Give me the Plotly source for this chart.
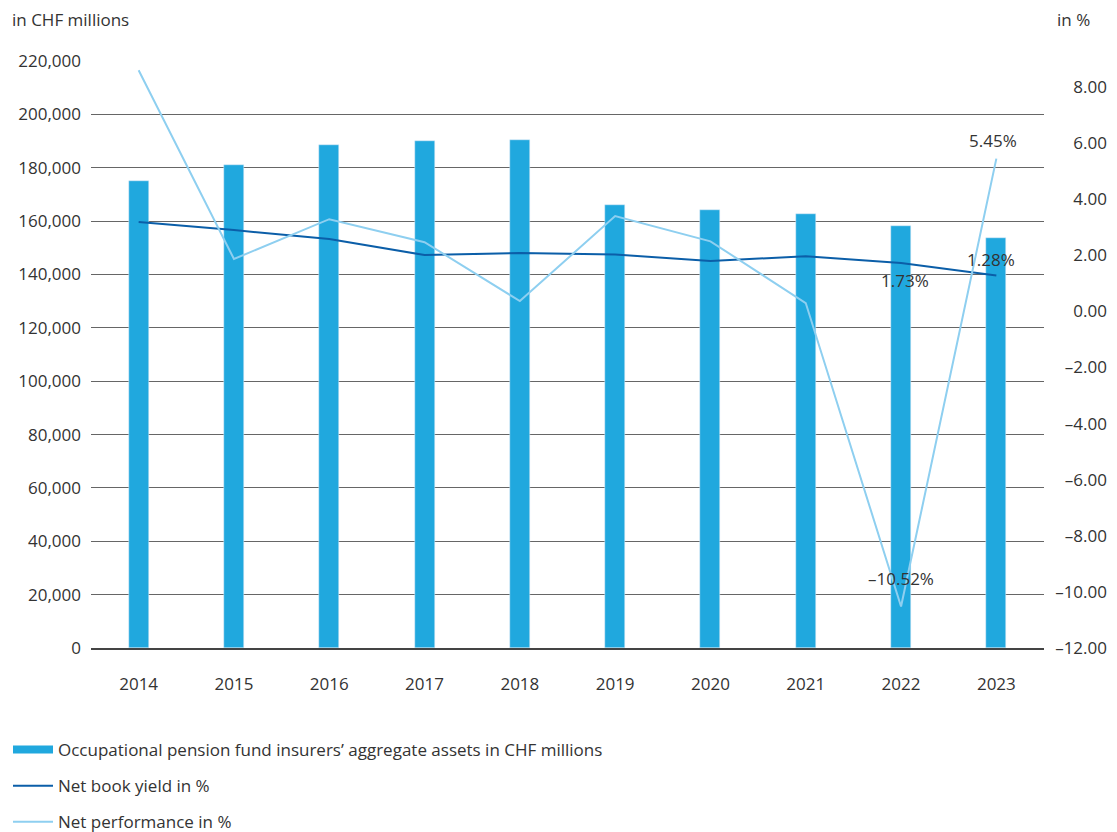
import plotly.graph_objects as go

years = ["2014", "2015", "2016", "2017", "2018", "2019", "2020", "2021", "2022", "2023"]
assets = [175000, 181000, 188500, 190000, 190400, 166000, 164200, 162700, 158200, 153700]
book_yield = [3.19, 2.90, 2.58, 2.01, 2.08, 2.03, 1.80, 1.97, 1.73, 1.28]
performance = [8.60, 1.87, 3.29, 2.47, 0.37, 3.40, 2.50, 0.30, -10.52, 5.45]

right_ticks = [-12, -10, -8, -6, -4, -2, 0, 2, 4, 6, 8]
right_ticktext = [f"{v:.2f}".replace("-", "\u2013") for v in right_ticks]

BAR = "#20a8de"
DARK = "#0b5ea8"
LIGHT = "#8ecff0"
TXT = "#333333"
FONT = "Open Sans"
FS = 17

fig = go.Figure()
fig.add_trace(go.Bar(x=years, y=assets, marker_color=BAR, width=0.21, showlegend=False,
                     name="Occupational pension fund insurers\u2019 aggregate assets in CHF millions"))
fig.add_trace(go.Scatter(x=years, y=book_yield, yaxis="y2", mode="lines",
                         line=dict(color=DARK, width=2), showlegend=False, name="Net book yield in %"))
fig.add_trace(go.Scatter(x=years, y=performance, yaxis="y2", mode="lines",
                         line=dict(color=LIGHT, width=2), showlegend=False, name="Net performance in %"))

# legend entries
fig.add_trace(go.Scatter(x=[years[0]], y=[None], mode="lines", line=dict(color=BAR, width=8),
                         name="Occupational pension fund insurers\u2019 aggregate assets in CHF millions",
                         legendgroup="a"))
fig.add_trace(go.Scatter(x=[years[0]], y=[None], mode="lines", line=dict(color=DARK, width=2),
                         name="Net book yield in %", legendgroup="b"))
fig.add_trace(go.Scatter(x=[years[0]], y=[None], mode="lines", line=dict(color=LIGHT, width=2),
                         name="Net performance in %", legendgroup="c"))

# page has an 8px body margin, so the figure is designed in shifted coordinates
W, H = 1109, 824
ml, mr, mt = 83, 10, 53
ph = 587
mb = H - mt - ph
pw = W - ml - mr
dom_end = 953 / pw

fig.update_layout(
    width=W, height=H,
    margin=dict(l=ml, r=mr, t=mt, b=mb, autoexpand=False),
    paper_bgcolor="white", plot_bgcolor="white",
    font=dict(family=FONT, size=FS, color=TXT),
    bargap=0,
    xaxis=dict(type="category", range=[-0.5, 9.5], domain=[0, dom_end], showgrid=False, showline=True,
               linecolor="#444444", linewidth=2,
               ticks="", tickfont=dict(size=FS, color=TXT), ticklabelstandoff=20),
    yaxis=dict(range=[0, 220000], dtick=20000, tickformat=",", showgrid=True, gridcolor="#666666",
               gridwidth=1, zeroline=False, ticks="", tickfont=dict(size=FS, color=TXT),
               ticklabelstandoff=9),
    yaxis2=dict(range=[-12, 8.93], tickvals=right_ticks, ticktext=right_ticktext, overlaying="y",
                side="left", anchor="free", position=1.0, showgrid=False, zeroline=False,
                ticks="", tickfont=dict(size=FS, color=TXT), showline=False),
    legend=dict(orientation="v", x=-ml / pw, xanchor="left", y=-(724 - mt - ph) / ph, yanchor="top",
                font=dict(size=FS, color=TXT), tracegroupgap=11, itemwidth=40),
    showlegend=True,
)

fig.add_annotation(text="in CHF millions", xref="paper", yref="paper", x=(2 - ml) / pw, y=1,
                   xanchor="left", yanchor="bottom", yshift=28, showarrow=False,
                   font=dict(size=FS, color=TXT))
fig.add_annotation(text="in %", xref="paper", yref="paper", x=(1047 - ml) / pw, y=1,
                   xanchor="left", yanchor="bottom", yshift=28, showarrow=False,
                   font=dict(size=FS, color=TXT))

def pct(v):
    return f"{v:.2f}%".replace("-", "\u2013")

# (series, category index, yshift, xshift)
labels = [(performance, 9, 18, -3), (book_yield, 9, 16, -5), (book_yield, 8, -18, 4), (performance, 8, 28, 0)]
for series, i, ys, xs in labels:
    fig.add_annotation(x=i, xref="x", y=series[i], yref="y2", text=pct(series[i]), showarrow=False,
                       yshift=ys, xshift=xs, font=dict(size=FS, color=TXT))

fig.write_html("out.html")
